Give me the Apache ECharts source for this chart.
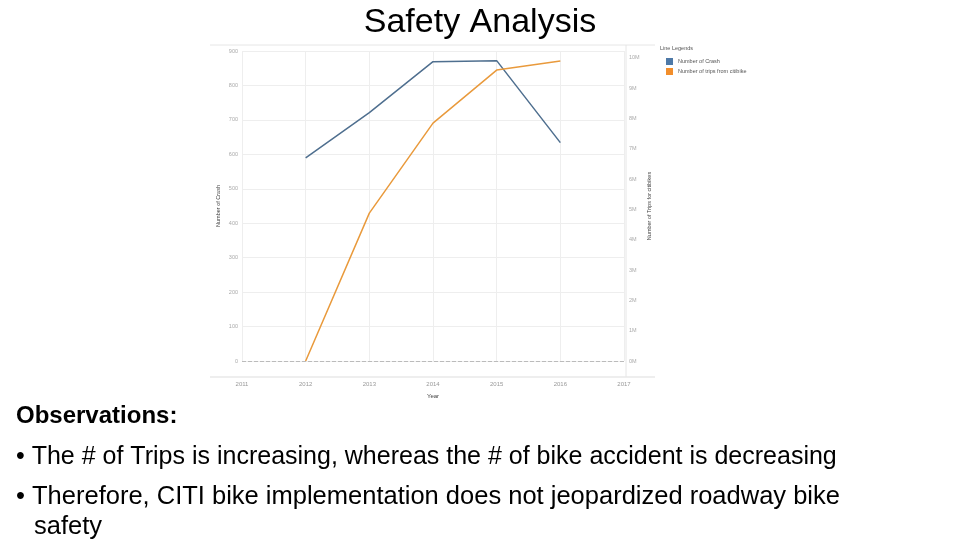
<!DOCTYPE html>
<html><head><meta charset="utf-8">
<script src="https://cdn.jsdelivr.net/npm/echarts@6/dist/echarts.min.js"></script>
<style>html,body{margin:0;padding:0;background:#fff}#c{width:960px;height:540px}</style>
</head><body><div id="c"></div>
<script>
const years = [2012, 2013, 2014, 2015, 2016];
const crashes = [590, 721, 869, 872, 634];
const trips = [0, 4880000, 7850000, 9600000, 9900000];
const titleText = 'Safety Analysis';
const obsHead = 'Observations:';
const obsLines = ['• The # of Trips is increasing, whereas the # of bike accident is decreasing',
  '• Therefore, CITI bike implementation does not jeopardized roadway bike', 'safety'];

const FONT = '"Liberation Sans", sans-serif';
const chart = echarts.init(document.getElementById('c'));
const pair = (xs, ys) => xs.map((x, i) => [x, ys[i]]);
chart.setOption({
  animation: false,
  grid: {left: 242, right: 336, top: 51, bottom: 179},
  legend: {
    orient: 'vertical', left: 661, top: 53, itemWidth: 7, itemHeight: 7, itemGap: 3,
    icon: 'rect', textStyle: {fontSize: 5.5, color: '#555', fontFamily: 'Liberation Sans'},
    data: ['Number of Crash', 'Number of trips from citibike']
  },
  xAxis: {
    type: 'value', min: 2011, max: 2017, interval: 1,
    name: 'Year', nameLocation: 'middle', nameGap: 32,
    nameTextStyle: {fontSize: 6, color: '#444', fontFamily: 'Liberation Sans'},
    axisLine: {show: false}, axisTick: {show: false},
    axisLabel: {margin: 20, fontSize: 6, color: '#999', fontFamily: 'Liberation Sans', formatter: v => String(v)},
    splitLine: {show: true, lineStyle: {color: '#eeeeee', width: 1}}
  },
  yAxis: [{
    type: 'value', min: 0, max: 900, interval: 100,
    name: 'Number of Crash', nameLocation: 'middle', nameGap: 21,
    nameTextStyle: {fontSize: 5.5, color: '#444', fontFamily: 'Liberation Sans'},
    axisLine: {show: false}, axisTick: {show: false},
    axisLabel: {margin: 4, fontSize: 5.5, color: '#aaa', fontFamily: 'Liberation Sans'},
    splitLine: {lineStyle: {color: '#eeeeee', width: 1}}
  }, {
    type: 'value', min: 0, max: 10230000, interval: 1000000,
    name: 'Number of Trips for citibikes', nameLocation: 'middle', nameGap: 22,
    nameRotate: 90,
    nameTextStyle: {fontSize: 5.5, color: '#444', fontFamily: 'Liberation Sans'},
    axisLine: {show: false}, axisTick: {show: false},
    axisLabel: {margin: 5, fontSize: 5.5, color: '#aaa', fontFamily: 'Liberation Sans', showMaxLabel: false,
      formatter: v => (v % 1000000 === 0 ? (v / 1000000) + 'M' : '')},
    splitLine: {show: false}
  }],
  series: [{
    name: 'Number of Crash', type: 'line', yAxisIndex: 0, data: pair(years, crashes),
    symbol: 'none', lineStyle: {color: '#4f6f8f', width: 1.5}, itemStyle: {color: '#4e79a7'}
  }, {
    name: 'Number of trips from citibike', type: 'line', yAxisIndex: 1, data: pair(years, trips),
    symbol: 'none', lineStyle: {color: '#e99a3c', width: 1.5}, itemStyle: {color: '#f28e2b'},
    markLine: {silent: true, symbol: 'none', label: {show: false},
      lineStyle: {color: '#bbbbbb', type: 'dashed', width: 1}, data: [{yAxis: 0}]}
  }],
  graphic: [
    {type: 'line', shape: {x1: 210, y1: 45, x2: 655, y2: 45}, style: {stroke: '#e6e6e6', lineWidth: 1}},
    {type: 'line', shape: {x1: 210, y1: 377, x2: 655, y2: 377}, style: {stroke: '#dddddd', lineWidth: 1}},
    {type: 'line', shape: {x1: 626, y1: 45, x2: 626, y2: 377}, style: {stroke: '#e6e6e6', lineWidth: 1}},
    {type: 'text', left: 660, top: 45, style: {text: 'Line Legends', fontSize: 5.5, fill: '#555', fontFamily: 'Liberation Sans'}},
    {type: 'text', x: 480, y: 23, style: {text: titleText, fontSize: 34, fill: '#000', fontFamily: FONT,
      align: 'center', verticalAlign: 'middle'}},
    {type: 'text', x: 16, y: 416, style: {text: obsHead, fontSize: 24, fontWeight: 'bold', fill: '#000', fontFamily: FONT, verticalAlign: 'middle'}},
    {type: 'text', x: 16, y: 457, style: {text: obsLines[0], fontSize: 25, fill: '#000', fontFamily: FONT, verticalAlign: 'middle'}},
    {type: 'text', x: 16, y: 497, style: {text: obsLines[1], fontSize: 25.5, fill: '#000', fontFamily: FONT, verticalAlign: 'middle'}},
    {type: 'text', x: 34, y: 527, style: {text: obsLines[2], fontSize: 25.5, fill: '#000', fontFamily: FONT, verticalAlign: 'middle'}}
  ]
});
</script></body></html>
